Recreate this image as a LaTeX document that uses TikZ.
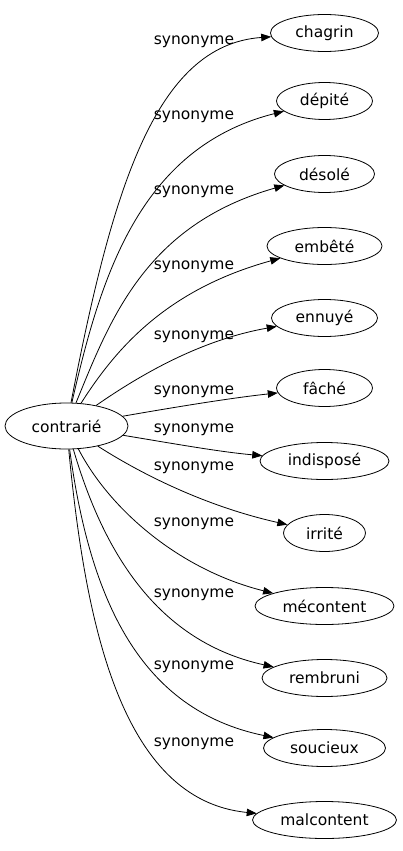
\documentclass[tikz,border=0pt]{standalone}
\usepackage{fontspec}
\setmainfont{DejaVu Sans}
\usetikzlibrary{shapes.geometric,arrows.meta}
\begin{document}
\begin{tikzpicture}[x=1pt,y=-1pt,
  every node/.style={font=\fontsize{15.5pt}{18pt}\selectfont, text=black},
  word/.style={ellipse,draw,line width=0.8pt,inner sep=0pt,minimum height=37pt},
  lbl/.style={inner sep=0pt},
  syn/.style={line width=0.8pt,-{Triangle[length=10pt,width=7.5pt]}}]
\useasboundingbox (0,0) rectangle (402,851);
\node[word,minimum width=123pt,minimum height=46pt] (c) at (66.5,426) {contrarié};
\node[word,minimum width=108pt] (n1) at (324.5,33) {chagrin};
\node[word,minimum width=96pt] (n2) at (324.5,101) {dépité};
\node[word,minimum width=100pt] (n3) at (324.5,174) {désolé};
\node[word,minimum width=115pt] (n4) at (324.5,246) {embêté};
\node[word,minimum width=106pt] (n5) at (324.5,318) {ennuyé};
\node[word,minimum width=96pt] (n6) at (324.5,388) {fâché};
\node[word,minimum width=129pt] (n7) at (324.5,461) {indisposé};
\node[word,minimum width=82pt] (n8) at (324.5,533) {irrité};
\node[word,minimum width=139pt] (n9) at (324.5,606) {mécontent};
\node[word,minimum width=125pt] (n10) at (324.5,678) {rembruni};
\node[word,minimum width=122pt] (n11) at (324.5,748) {soucieux};
\node[word,minimum width=144pt] (n12) at (324.5,820) {malcontent};
\node[lbl] (l1) at (194,42) {synonyme};
\node[lbl] (l2) at (194,117) {synonyme};
\node[lbl] (l3) at (194,192) {synonyme};
\node[lbl] (l4) at (194,267) {synonyme};
\node[lbl] (l5) at (194,337) {synonyme};
\node[lbl] (l6) at (194,392) {synonyme};
\node[lbl] (l7) at (194,430) {synonyme};
\node[lbl] (l8) at (194,468) {synonyme};
\node[lbl] (l9) at (194,524) {synonyme};
\node[lbl] (l10) at (194,595) {synonyme};
\node[lbl] (l11) at (194,667) {synonyme};
\node[lbl] (l12) at (194,744) {synonyme};
\draw[syn] (c) .. controls (112,190) and (155,45) .. (n1);
\draw[syn] (c) .. controls (100,280) and (138,148) .. (n2);
\draw[syn] (c) .. controls (110,320) and (145,225) .. (n3);
\draw[syn] (c) .. controls (115,350) and (165,290) .. (n4);
\draw[syn] (c) .. controls (140,375) and (200,340) .. (n5);
\draw[syn] (c) .. controls (170,408) and (230,398) .. (n6);
\draw[syn] (c) .. controls (170,443) and (220,452) .. (n7);
\draw[syn] (c) .. controls (135,470) and (200,505) .. (n8);
\draw[syn] (c) .. controls (110,510) and (180,570) .. (n9);
\draw[syn] (c) .. controls (100,540) and (150,640) .. (n10);
\draw[syn] (c) .. controls (90,600) and (140,710) .. (n11);
\draw[syn] (c) .. controls (85,620) and (120,800) .. (n12);
\end{tikzpicture}
\end{document}
